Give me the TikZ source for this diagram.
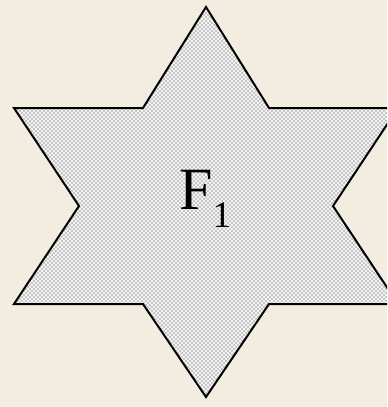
\documentclass[tikz,border=0pt]{standalone}
\usepackage{fontspec}
\setmainfont{Liberation Serif}
\usetikzlibrary{patterns}

\definecolor{paper}{RGB}{243,236,224}

\begin{document}
\begin{tikzpicture}[x=0.75pt, y=-0.75pt, line join=miter]
				% Background
				\fill[paper] (0,0) rectangle (387,407);
				\clip (0,0) rectangle (387,407);
				
				% Star
				\filldraw[fill=black!4, line width=1.5pt] (206,7) -- (269,108) -- (398,108) -- (333,206) -- (398,304) -- (269,304) -- (206,397) -- (143,304) -- (14,304) -- (79,206) -- (14,108) -- (143,108) -- cycle;
				\fill[pattern=crosshatch dots, pattern color=black!85] (206,7) -- (269,108) -- (398,108) -- (333,206) -- (398,304) -- (269,304) -- (206,397) -- (143,304) -- (14,304) -- (79,206) -- (14,108) -- (143,108) -- cycle;
				
				% Label
				\node[anchor=base west, inner sep=0pt, font=\fontsize{45}{45}\selectfont] (lbl) at (179,209) {F\raisebox{-14pt}{\fontsize{28}{28}\selectfont 1}};
\end{tikzpicture}
\end{document}
